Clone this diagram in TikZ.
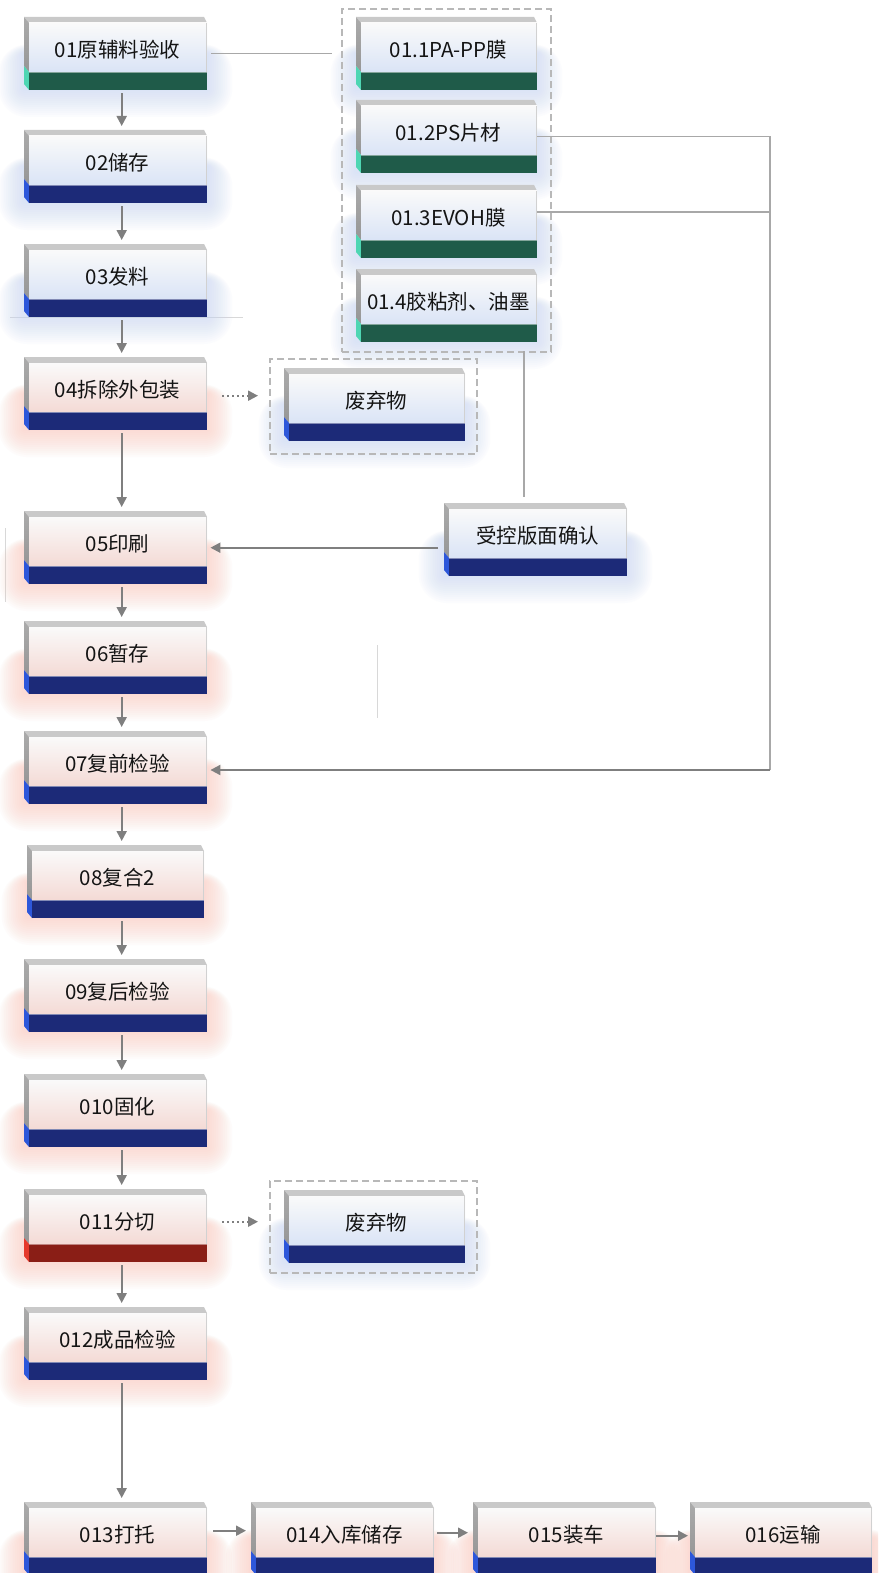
\documentclass[tikz,border=0pt]{standalone}
\usepackage{fontspec}
\setmainfont{Noto Sans CJK SC}
\usetikzlibrary{arrows.meta}
\definecolor{bandG}{HTML}{1F5B49}\definecolor{tipG}{HTML}{4ED6B3}\definecolor{glowG}{HTML}{C4D4F6}\definecolor{faceG}{HTML}{DAE4F6}
\definecolor{bandB}{HTML}{1C2A78}\definecolor{tipB}{HTML}{2D57DA}\definecolor{glowB}{HTML}{C4D4F6}\definecolor{faceB}{HTML}{DAE4F6}
\definecolor{bandP}{HTML}{1C2A78}\definecolor{tipP}{HTML}{2D57DA}\definecolor{glowP}{HTML}{FBC4B8}\definecolor{faceP}{HTML}{F4DAD5}
\definecolor{bandR}{HTML}{8A1E16}\definecolor{tipR}{HTML}{E5392B}\definecolor{glowR}{HTML}{FBC4B8}\definecolor{faceR}{HTML}{F4DAD5}
\definecolor{topbev}{HTML}{C9C9C9}\definecolor{leftbev}{HTML}{969696}
\definecolor{arrgray}{HTML}{7F7F7F}\definecolor{linegray}{HTML}{A8A8A8}
\definecolor{dashgray}{HTML}{B8B8B8}\definecolor{faintgray}{HTML}{D8D8D8}
\newcommand\pbox[6]{%
  \begin{scope}[shift={(#2,#3)}]
    \foreach \k in {1,...,14} {\fill[glow#6, opacity=0.05, rounded corners=\k*2pt] ({-\k*1.8},{36-\k*0.6}) rectangle ({#4+\k*1.8},{72+\k*2.0});}
    \fill[topbev] (0,0) -- ({#4-3},0) -- (#4,6) -- (5,6) -- cycle;
    \shade[top color=leftbev!80!white, bottom color=leftbev] (0,0) -- (5,6) -- (5,55) -- (0,49) -- cycle;
    \fill[tip#6] (0,49) -- (5,55) -- (5,73) -- (0,67) -- cycle;
    \shade[top color=white!96!gray, bottom color=face#6] (5,6) rectangle (#4,55);
    \draw[black!18, line width=0.8pt] (#4-0.4,6) -- (#4-0.4,55);
    \fill[band#6] (5,55) rectangle (#4,73);
    \draw[band#6!55!white, line width=1pt] (5,55.5) -- (#4,55.5);
  \end{scope}
  \node[anchor=north west, minimum width=#4, minimum height=73, inner sep=0pt] (#1) at (#2,#3) {};
  \node[txt] at ({#2+#4/2+2},{#3+33}) {#5};
}
\begin{document}
\begin{tikzpicture}[x=1pt,y=-1pt,
  txt/.style={font=\fontsize{20.5}{24}\selectfont, text=black!92, inner sep=0pt},
  arr/.style={draw=arrgray, line width=2pt, -{Triangle[length=10pt,width=10pt]}},
  dotarr/.style={arr, dash pattern=on 2pt off 3pt},
  plain/.style={draw=linegray, line width=1.6pt},
  faint/.style={draw=faintgray, line width=1pt},
  cont/.style={draw=dashgray, line width=2pt, dash pattern=on 7pt off 4pt, inner sep=0pt, anchor=north west}]
\useasboundingbox (0,0) rectangle (878,1573);
\clip (0,0) rectangle (878,1573);
\fill[white] (0,0) rectangle (878,1573);
% faint stray lines
\draw[faint] (10,317) -- (243,317);
\draw[faint] (377,645) -- (377,718);
\draw[faint] (5,528) -- (5,602);
% left column
\pbox{n01}{24}{17}{183}{01原辅料验收}{G}
\pbox{n02}{24}{130}{183}{02储存}{B}
\pbox{n03}{24}{244}{183}{03发料}{B}
\pbox{n04}{24}{357}{183}{04拆除外包装}{P}
\pbox{n05}{24}{511}{183}{05印刷}{P}
\pbox{n06}{24}{621}{183}{06暂存}{P}
\pbox{n07}{24}{731}{183}{07复前检验}{P}
\pbox{n08}{27}{845}{177}{08复合2}{P}
\pbox{n09}{24}{959}{183}{09复后检验}{P}
\pbox{n010}{24}{1074}{183}{010固化}{P}
\pbox{n011}{24}{1189}{183}{011分切}{R}
\pbox{n012}{24}{1307}{183}{012成品检验}{P}
\pbox{n013}{24}{1502}{183}{013打托}{P}
\pbox{n014}{251}{1502}{183}{014入库储存}{P}
\pbox{n015}{473}{1502}{183}{015装车}{P}
\pbox{n016}{690}{1502}{182}{016运输}{P}
% right column
\pbox{a1}{356}{17}{181}{01.1PA-PP膜}{G}
\pbox{a2}{356}{100}{181}{01.2PS片材}{G}
\pbox{a3}{356}{185}{181}{01.3EVOH膜}{G}
\pbox{a4}{356}{269}{181}{01.4胶粘剂、油墨}{G}
\pbox{w1}{284}{368}{181}{废弃物}{B}
\pbox{k}{444}{503}{183}{受控版面确认}{B}
\pbox{w2}{284}{1190}{181}{废弃物}{B}
% dashed containers
\node[cont, minimum width=209, minimum height=343] (c1) at (341,8) {};
\node[cont, minimum width=207, minimum height=95] (c2) at (269,358) {};
\node[cont, minimum width=207, minimum height=92] (c3) at (269,1180) {};
% connectors
\coordinate (rt) at (770,137);
\coordinate (rb) at (770,770);
\coordinate (kv) at (524,351);
\draw[plain] ([xshift=4pt]n01.east) -- ([xshift=-9pt]n01.east -| c1.west);
\draw[plain] (a2.east) -- (a2.east -| rt) -- (rb);
\draw[plain] ([yshift=10pt]a3.east) -- ([yshift=10pt]a3.east -| rt);
\draw[arr] (rb) -- ([xshift=3pt]n07.east |- rb);
\draw[plain, shorten >=6pt] (kv) -- (kv |- k.north);
\draw[arr] ([xshift=-6pt]k.west |- n05.east) -- ([xshift=3pt]n05.east);
\draw[dotarr] ([xshift=15pt,yshift=-2pt]n04.east) -- ([xshift=-11pt,yshift=-2pt]n04.east -| c2.west);
\draw[dotarr] ([xshift=15pt,yshift=4pt]n011.east) -- ([xshift=-11pt,yshift=4pt]n011.east -| c3.west);
\foreach \a/\b in {n01/n02,n02/n03,n03/n04,n04/n05,n05/n06,n06/n07,n07/n08,n08/n09,n09/n010,n010/n011,n011/n012,n012/n013}
  \draw[arr, shorten <=3pt, shorten >=4pt] ([xshift=6pt]\a.south) -- ([xshift=6pt]\b.north);
\draw[arr, shorten <=6pt, shorten >=5pt] ([yshift=8pt]n013.east) -- ([yshift=8pt]n014.west);
\draw[arr, shorten <=3pt, shorten >=5pt] ([yshift=6pt]n014.east) -- ([yshift=6pt]n015.west);
\draw[arr, shorten <=0pt, shorten >=2pt] ([yshift=3pt]n015.east) -- ([yshift=3pt]n016.west);
\end{tikzpicture}
\end{document}
